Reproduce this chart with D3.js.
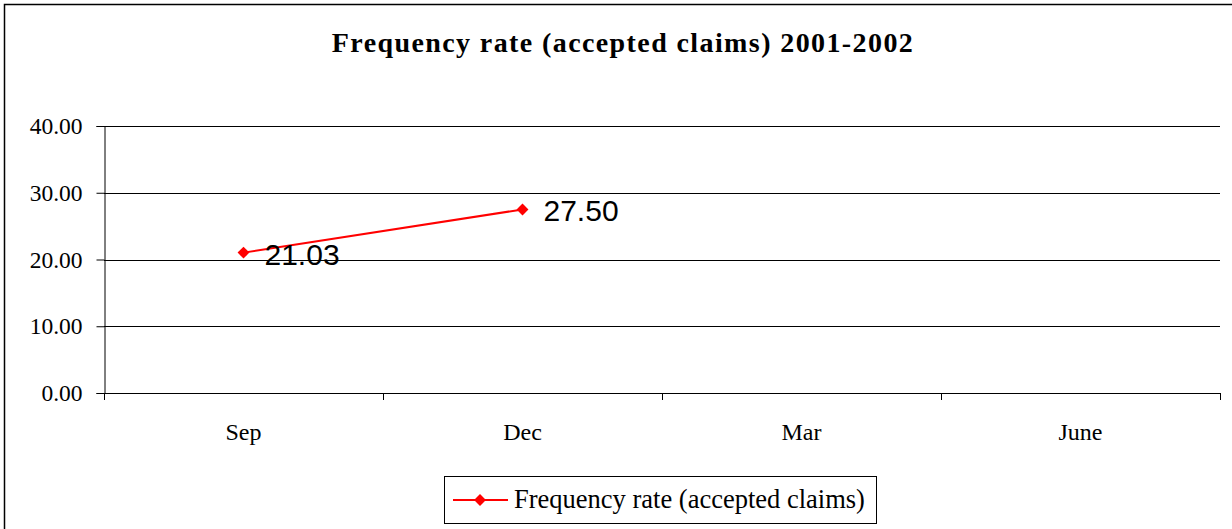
<!DOCTYPE html>
<html>
<head>
<meta charset="utf-8">
<script src="https://cdn.jsdelivr.net/npm/d3@7"></script>
<style>
  body { margin: 0; background: #fff; }
</style>
</head>
<body>
<div id="chart"></div>
<script>
// Chart data
const categories = ["Sep", "Dec", "Mar", "June"];
const seriesName = "Frequency rate (accepted claims)";
const seriesValues = [21.03, 27.50, null, null];
const yTicks = [0, 10, 20, 30, 40];
const chartTitle = "Frequency rate (accepted claims) 2001-2002";

const serif = "'Liberation Serif', 'Times New Roman', serif";

function createLineChart() {
    const W = 1232, H = 529;
    const margin = { top: 126, right: 12, bottom: 136, left: 104 };
    const width = W - margin.left - margin.right;
    const height = H - margin.top - margin.bottom;

    const svg = d3.select("#chart")
        .append("svg")
        .attr("width", W)
        .attr("height", H);

    // outer chart border
    svg.append("rect")
        .attr("x", 4.5)
        .attr("y", 4.5)
        .attr("width", W + 10)
        .attr("height", H + 10)
        .attr("fill", "none")
        .attr("stroke", "#000")
        .attr("stroke-width", 1.5);

    svg.append("text")
        .attr("x", 623)
        .attr("y", 52)
        .attr("text-anchor", "middle")
        .style("font-family", serif)
        .style("font-weight", "bold")
        .style("font-size", "28px")
        .style("letter-spacing", "1.4px")
        .text(chartTitle);

    const g = svg.append("g")
        .attr("transform", `translate(${margin.left},${margin.top})`);

    const xScale = d3.scaleBand()
        .domain(categories)
        .range([0, width]);

    const yScale = d3.scaleLinear()
        .domain([0, 40])
        .range([height, 0]);

    // horizontal gridlines
    g.selectAll(".grid")
        .data(yTicks)
        .enter().append("line")
        .attr("class", "grid")
        .attr("x1", 0)
        .attr("x2", width)
        .attr("y1", d => Math.round(yScale(d)) + 0.5)
        .attr("y2", d => Math.round(yScale(d)) + 0.5)
        .attr("stroke", "#000")
        .attr("stroke-width", 1);

    // y axis
    const yAxis = g.append("g")
        .attr("transform", "translate(0.5,0)")
        .call(d3.axisLeft(yScale).tickValues(yTicks).tickFormat(d3.format(".2f")).tickSize(8).tickPadding(14));
    yAxis.select(".domain").attr("stroke", "#000");
    yAxis.selectAll("text")
        .style("font-family", serif)
        .style("font-size", "23.5px")
        .attr("fill", "#000");

    // x axis
    const xAxis = g.append("g")
        .attr("transform", `translate(0,${height + 0.5})`)
        .call(d3.axisBottom(xScale).tickSize(0).tickPadding(29));
    xAxis.select(".domain").remove();
    xAxis.selectAll("text")
        .style("font-family", serif)
        .style("font-size", "24px")
        .attr("fill", "#000");

    // x ticks between categories
    const boundaries = categories.map(c => xScale(c)).concat([width]);
    g.selectAll(".xtick")
        .data(boundaries)
        .enter().append("line")
        .attr("x1", d => Math.round(d) + 0.5)
        .attr("x2", d => Math.round(d) + 0.5)
        .attr("y1", height)
        .attr("y2", height + 7)
        .attr("stroke", "#000");

    const points = categories
        .map((c, i) => ({ cat: c, value: seriesValues[i] }))
        .filter(d => d.value != null);

    const line = d3.line()
        .x(d => xScale(d.cat) + xScale.bandwidth() / 2)
        .y(d => yScale(d.value));

    g.append("path")
        .datum(points)
        .attr("d", line)
        .attr("fill", "none")
        .attr("stroke", "#ff0000")
        .attr("stroke-width", 2);

    const diamond = d3.symbol().type(d3.symbolDiamond2).size(90);

    g.selectAll(".marker")
        .data(points)
        .enter().append("path")
        .attr("class", "marker")
        .attr("transform", d => `translate(${xScale(d.cat) + xScale.bandwidth() / 2},${yScale(d.value)})`)
        .attr("d", diamond)
        .attr("fill", "#ff0000");

    g.selectAll(".point-label")
        .data(points)
        .enter().append("text")
        .attr("class", "point-label")
        .attr("x", d => xScale(d.cat) + xScale.bandwidth() / 2 + 21)
        .attr("y", d => yScale(d.value) + 12)
        .style("font-family", "'Liberation Sans', Arial, sans-serif")
        .style("font-size", "30px")
        .text(d => d3.format(".2f")(d.value));

    // legend
    const legend = svg.append("g")
        .attr("transform", "translate(444,476)");

    legend.append("rect")
        .attr("x", 0.5)
        .attr("y", 0.5)
        .attr("width", 432)
        .attr("height", 47)
        .attr("fill", "#fff")
        .attr("stroke", "#000");

    legend.append("line")
        .attr("x1", 9)
        .attr("x2", 64)
        .attr("y1", 24)
        .attr("y2", 24)
        .attr("stroke", "#ff0000")
        .attr("stroke-width", 2);

    legend.append("path")
        .attr("transform", "translate(36,24)")
        .attr("d", diamond)
        .attr("fill", "#ff0000");

    legend.append("text")
        .attr("x", 70)
        .attr("y", 32)
        .style("font-family", serif)
        .style("font-size", "26.5px")
        .text(seriesName);
}

createLineChart();
</script>
</body>
</html>
